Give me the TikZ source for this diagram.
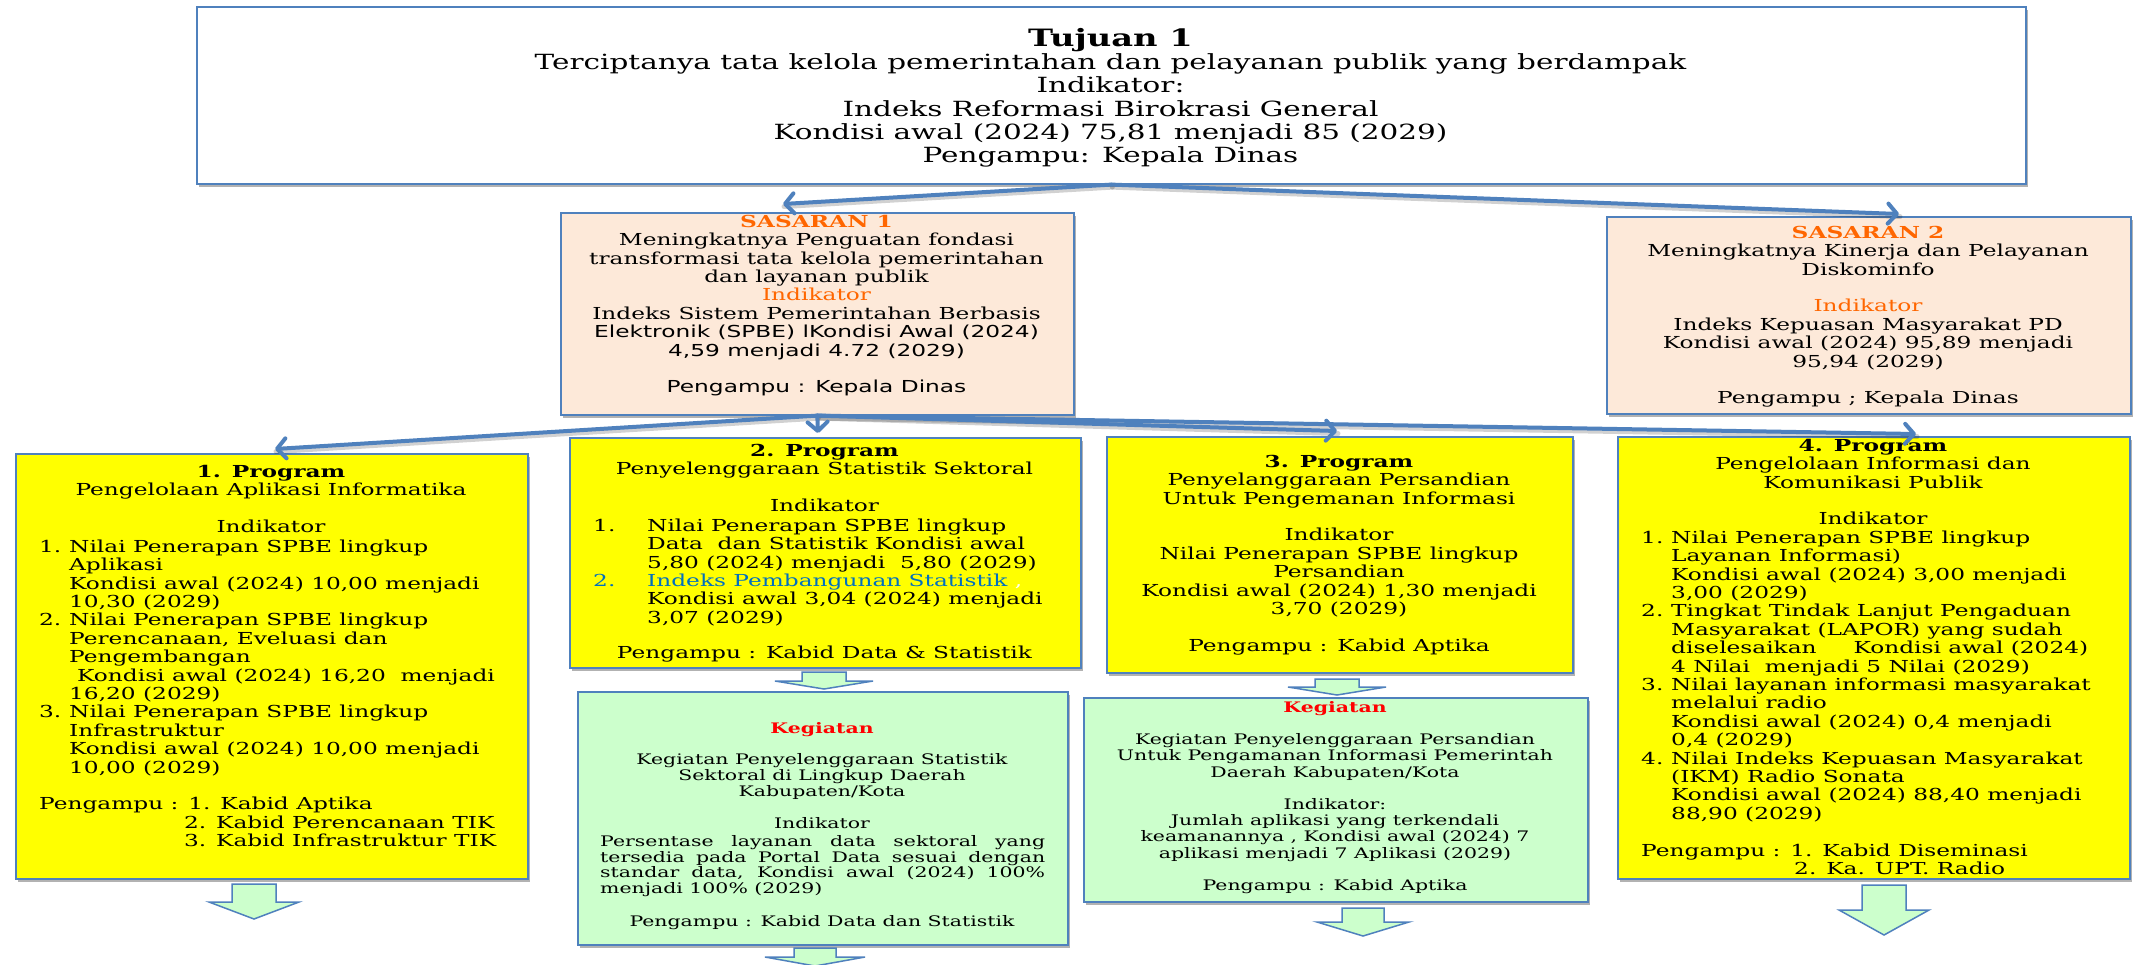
\documentclass[tikz,border=0pt]{standalone}
\usepackage{fontspec}
\setmainfont{DejaVu Serif}[FakeStretch=1.41]
\newfontfamily\sns{DejaVu Sans}[FakeStretch=1.41]
\usetikzlibrary{arrows.meta,shadows}
\definecolor{bord}{RGB}{79,129,189}
\definecolor{peach}{RGB}{253,233,217}
\definecolor{orng}{RGB}{255,102,0}
\definecolor{sblue}{RGB}{0,112,192}
\definecolor{lgreen}{RGB}{204,255,204}
\definecolor{ylw}{RGB}{255,255,0}
\newcommand\myst[1]{\vrule height #1 width 0pt depth 0pt}
\newcommand\numbx[2][30pt]{\makebox[#1][l]{#2}}
\newcommand\contind[1][30pt]{\hspace*{#1}}
\newcommand\blkarrow[6]{% cx, top, shaft half, head half, head y, tip y
  \draw[blkar] ({#1-#3},#2) -- ({#1+#3},#2) -- ({#1+#3},#5) -- ({#1+#4},#5) -- (#1,#6) -- ({#1-#4},#5) -- ({#1-#3},#5) -- cycle;}
\begin{document}
\begin{tikzpicture}[x=1pt,y=-1pt,
  box/.style={draw=bord, line width=1.6pt, rectangle, inner sep=0pt, anchor=north west,
    drop shadow={shadow xshift=2.5pt, shadow yshift=-3pt, opacity=0.3, fill=black}},
  txt/.style={inner sep=0pt, align=center, anchor=north},
  lst/.style={inner sep=0pt, align=left, anchor=north west},
  fA/.style={font=\fontsize{16.5}{18.4}\selectfont},
  fK/.style={font=\fontsize{14.5}{15.8}\selectfont},
  conn/.style={draw=bord, line width=4pt, line cap=round,
    -{Straight Barb[length=9pt,width=20pt,round]}},
  connsh/.style={draw=black, opacity=0.18, line width=5pt, line cap=round},
  blkar/.style={draw=bord, line width=1.5pt, fill=lgreen, line join=miter}]
\fill[white] (0,0) rectangle (2140,964);
\useasboundingbox (0,0) rectangle (2140,964);

% boxes
\node[box, fill=white, minimum width=1829pt, minimum height=177pt] (tuj) at (196,6) {};
\node[box, fill=peach, minimum width=513pt, minimum height=202pt] (s1) at (560,212) {};
\node[box, fill=peach, minimum width=524pt, minimum height=197pt] (s2) at (1606,216) {};
\node[box, fill=ylw, minimum width=512pt, minimum height=425pt] (p1) at (15,453) {};
\node[box, fill=ylw, minimum width=511pt, minimum height=230pt] (p2) at (569,437) {};
\node[box, fill=ylw, minimum width=466pt, minimum height=236pt] (p3) at (1106,436) {};
\node[box, fill=ylw, minimum width=512pt, minimum height=442pt] (p4) at (1617,436) {};
\node[box, fill=lgreen, minimum width=490pt, minimum height=253pt] (k2) at (577,691) {};
\node[box, fill=lgreen, minimum width=504pt, minimum height=204pt] (k3) at (1083,697) {};

% block arrows
\blkarrow{254}{884}{22}{45}{902}{919}
\blkarrow{824}{672}{22}{49}{681}{689}
\blkarrow{815}{948}{21}{50}{957}{966}
\blkarrow{1337}{679}{22}{49}{687}{695}
\blkarrow{1363}{908}{21}{46}{922}{936}
\blkarrow{1884}{885}{22}{45}{910}{935}

% Tujuan
\node[txt, font=\fontsize{20.9}{23.3}\selectfont] (tujT) at (1110.5,27) {%
{\fontsize{23.9}{23.3}\selectfont\bfseries\myst{19pt}Tujuan 1}\\
Terciptanya tata kelola pemerintahan dan pelayanan publik yang berdampak\\
Indikator:\\
Indeks Reformasi Birokrasi General\\
Kondisi awal (2024) 75,81 menjadi 85 (2029)\\
Pengampu: Kepala Dinas};

% Sasaran 1
\node[txt, fA] (s1T) at (816.5,214) {%
\myst{13pt}{\color{orng}\bfseries SASARAN 1}\\
Meningkatnya Penguatan fondasi\\
transformasi tata kelola pemerintahan\\
dan layanan publik\\
{\color{orng}Indikator}\\
Indeks Sistem Pemerintahan Berbasis\\
{\sns Elektronik (SPBE) lKondisi Awal (2024)}\\
{\sns 4,59 menjadi 4.72 (2029)}\\[18.4pt]
{\sns Pengampu : Kepala Dinas}};

% Sasaran 2
\node[txt, fA] (s2T) at (1868,225) {%
\myst{13pt}{\color{orng}\bfseries SASARAN 2}\\
Meningkatnya Kinerja dan Pelayanan\\
Diskominfo\\[18.4pt]
{\color{orng}Indikator}\\
Indeks Kepuasan Masyarakat PD\\
Kondisi awal (2024) 95,89 menjadi\\
95,94 (2029)\\[18.4pt]
Pengampu ; Kepala Dinas};

% Program 1
\node[txt, fA] (p1H) at (271,464) {%
\myst{13pt}\textbf{1. Program}\\
Pengelolaan Aplikasi Informatika\\[18.4pt]
Indikator};
\node[lst, fA] (p1L) at (39,539) {%
\myst{13pt}\numbx{1.}Nilai Penerapan SPBE lingkup\\
\contind Aplikasi\\
\contind Kondisi awal (2024) 10,00 menjadi\\
\contind 10,30 (2029)\\
\numbx{2.}Nilai Penerapan SPBE lingkup\\
\contind Perencanaan, Eveluasi dan\\
\contind Pengembangan\\
\contind[38pt]Kondisi awal (2024) 16,20\ \ menjadi\\
\contind 16,20 (2029)\\
\numbx{3.}Nilai Penerapan SPBE lingkup\\
\contind Infrastruktur\\
\contind Kondisi awal (2024) 10,00 menjadi\\
\contind 10,00 (2029)\\[18.4pt]
Pengampu : 1. Kabid Aptika\\
\contind[145pt]2. Kabid Perencanaan TIK\\
\contind[145pt]3. Kabid Infrastruktur TIK};

% Program 2
\node[txt, fA] (p2H) at (824.5,443) {%
\myst{13pt}\textbf{2. Program}\\
Penyelenggaraan Statistik Sektoral\\[18.4pt]
Indikator};
\node[lst, fA] (p2L) at (593,518) {%
\myst{13pt}\numbx[54pt]{1.}Nilai Penerapan SPBE lingkup\\
\contind[54pt]Data\ \ dan Statistik Kondisi awal\\
\contind[54pt]5,80 (2024) menjadi\ \ 5,80 (2029)\\
{\color{sblue}\numbx[54pt]{2.}Indeks Pembangunan Statistik}\ {\color{white},}\\
\contind[54pt]Kondisi awal 3,04 (2024) menjadi\\
\contind[54pt]3,07 (2029)};
\node[txt, fA] (p2P) at (824.5,645) {\myst{13pt}Pengampu : Kabid Data \& Statistik};

% Program 3
\node[txt, fA] (p3T) at (1339,454) {%
\myst{13pt}\textbf{3. Program}\\
Penyelanggaraan Persandian\\
Untuk Pengemanan Informasi\\[18.4pt]
Indikator\\
Nilai Penerapan SPBE lingkup\\
Persandian\\
Kondisi awal (2024) 1,30 menjadi\\
3,70 (2029)\\[18.4pt]
Pengampu : Kabid Aptika};

% Program 4
\node[txt, fA] (p4H) at (1873,438) {%
\myst{13pt}\textbf{4. Program}\\
Pengelolaan Informasi dan\\
Komunikasi Publik\\[18.4pt]
Indikator};
\node[lst, fA] (p4L) at (1641,530) {%
\myst{13pt}\numbx{1.}Nilai Penerapan SPBE lingkup\\
\contind Layanan Informasi)\\
\contind Kondisi awal (2024) 3,00 menjadi\\
\contind 3,00 (2029)\\
\numbx{2.}Tingkat Tindak Lanjut Pengaduan\\
\contind Masyarakat (LAPOR) yang sudah\\
\contind\makebox[417pt][l]{diselesaikan\hfill Kondisi awal (2024)}\\
\contind 4 Nilai\ \ menjadi 5 Nilai (2029)\\
\numbx{3.}Nilai layanan informasi masyarakat\\
\contind melalui radio\\
\contind Kondisi awal (2024) 0,4 menjadi\\
\contind 0,4 (2029)\\
\numbx{4.}Nilai Indeks Kepuasan Masyarakat\\
\contind (IKM) Radio Sonata\\
\contind Kondisi awal (2024) 88,40 menjadi\\
\contind 88,90 (2029)\\[18.4pt]
Pengampu : 1. Kabid Diseminasi\\
\contind[153pt]2. Ka. UPT. Radio};

% Kegiatan 2
\node[txt, fK] (k2H) at (822,721) {%
\myst{12pt}{\color{red}\bfseries Kegiatan}\\[15.8pt]
Kegiatan Penyelenggaraan Statistik\\
Sektoral di Lingkup Daerah\\
Kabupaten/Kota\\[15.8pt]
Indikator};
\node[inner sep=0pt, anchor=north west, text width=445pt, align=justify, fK] (k2P) at (600,834) {%
\myst{12pt}Persentase layanan data sektoral yang\linebreak
tersedia pada Portal Data sesuai dengan\linebreak
standar data, Kondisi awal (2024) 100\%\linebreak
menjadi 100\% (2029)};
\node[txt, fK] (k2G) at (822,914) {\myst{12pt}Pengampu : Kabid Data dan Statistik};

% Kegiatan 3
\node[txt, font=\fontsize{14.5}{16.2}\selectfont] (k3T) at (1335,700) {%
\myst{12pt}{\color{red}\bfseries Kegiatan}\\[16.2pt]
Kegiatan Penyelenggaraan Persandian\\
Untuk Pengamanan Informasi Pemerintah\\
Daerah Kabupaten/Kota\\[16.2pt]
Indikator:\\
Jumlah aplikasi yang terkendali\\
keamanannya , Kondisi awal (2024) 7\\
aplikasi menjadi 7 Aplikasi (2029)\\[16.2pt]
Pengampu : Kabid Aptika};

% connectors
\coordinate (s1in) at (783,204);
\coordinate (s2in) at (1899,214);
\coordinate (p1in) at (275,449);
\coordinate (p2in) at (818,433);
\coordinate (p3in) at (1337,431);
\coordinate (p4in) at (1916,434);
\begin{scope}[transform canvas={xshift=1pt,yshift=-2.5pt}]
\draw[connsh] (tuj.south) -- (s1in);
\draw[connsh] (tuj.south) -- (s2in);
\draw[connsh] (s1.south) -- (p1in);
\draw[connsh] (s1.south) -- (p3in);
\draw[connsh] (s1.south) -- (p4in);
\end{scope}
\draw[conn] (tuj.south) -- (s1in);
\draw[conn] (tuj.south) -- (s2in);
\draw[conn] (s1.south) -- (p1in);
\draw[conn] (s1.south) -- (p2in);
\draw[conn] (s1.south) -- (p3in);
\draw[conn] (s1.south) -- (p4in);
\end{tikzpicture}
\end{document}
